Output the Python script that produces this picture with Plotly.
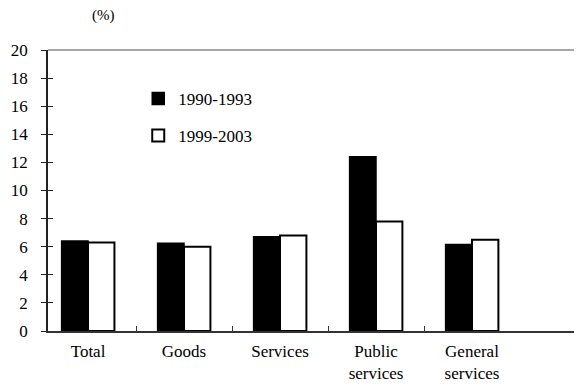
import plotly.graph_objects as go

# categories and series
categories = ["Total", "Goods", "Services", "Public<br>services", "General<br>services"]
series_names = ["1990-1993", "1999-2003"]
vals_1990_1993 = [6.4, 6.25, 6.7, 12.4, 6.15]
vals_1999_2003 = [6.3, 6.0, 6.8, 7.8, 6.5]
y_ticks = [0, 2, 4, 6, 8, 10, 12, 14, 16, 18, 20]
x_sep_ticks = [0.5, 1.5, 2.5, 3.5]

serif = "'Liberation Serif', 'Times New Roman', 'DejaVu Serif', serif"
font = dict(family=serif, size=17, color="black")
x_range = [-0.417, 5.146]

fig = go.Figure()
fig.add_trace(go.Bar(x=categories, y=vals_1990_1993, name=series_names[0],
                     marker=dict(color="black", line=dict(color="black", width=1.5)),
                     legendgroup="a"))
fig.add_trace(go.Bar(x=categories, y=vals_1999_2003, name=series_names[1],
                     marker=dict(color="white", line=dict(color="black", width=2)),
                     legendgroup="b"))
# empty trace so the extra tick axes get drawn
fig.add_trace(go.Scatter(x=[], y=[], xaxis="x2", yaxis="y2",
                         showlegend=False, hoverinfo="skip"))

# page body has an 8px margin, so the plot box is shifted back by that
fig.update_layout(
    width=582, height=390,
    margin=dict(l=40, r=8, t=42, b=67),
    paper_bgcolor="white", plot_bgcolor="white",
    font=font,
    barmode="group", bargap=0.45, bargroupgap=0,
    xaxis=dict(type="category", range=x_range, ticks="",
               showline=True, linecolor="#333", linewidth=1.5,
               showgrid=False, zeroline=False, tickfont=font, automargin=False,
               ticklabelstandoff=4),
    xaxis2=dict(range=x_range, overlaying="x", anchor="y", tickvals=x_sep_ticks,
                ticks="inside", ticklen=5, tickcolor="#333", tickwidth=1,
                showticklabels=False, showline=False, showgrid=False,
                zeroline=False, automargin=False),
    yaxis=dict(range=[0, 20], tickvals=y_ticks, ticks="outside", ticklen=5,
               tickcolor="#222", tickwidth=1, showline=True, linecolor="#222",
               linewidth=1.5, showgrid=False, zeroline=False, tickfont=font,
               ticklabelstandoff=10, automargin=False),
    yaxis2=dict(range=[0, 20], tickvals=y_ticks, overlaying="y", anchor="x",
                side="left", ticks="inside", ticklen=5, tickcolor="#222",
                showticklabels=False, showline=False, showgrid=False,
                zeroline=False, automargin=False),
    legend=dict(x=0.169, y=0.89, xanchor="left", yanchor="top",
                bgcolor="rgba(0,0,0,0)", font=font, itemwidth=30,
                traceorder="grouped", tracegroupgap=12),
    shapes=[dict(type="line", xref="paper", yref="paper", x0=0, x1=1, y0=1, y1=1,
                 line=dict(color="#888", width=1.5))],
    annotations=[dict(text="(%)", xref="paper", yref="paper", x=0.103, y=1.121,
                      xanchor="center", yanchor="middle", showarrow=False,
                      font=dict(family=serif, size=15, color="black"))],
)

fig.write_html("out.html")
